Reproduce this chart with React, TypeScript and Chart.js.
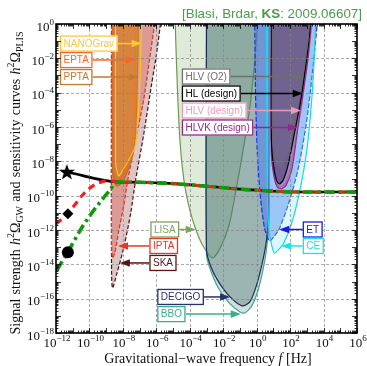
import React, { useEffect, useRef } from "react";
import { Chart, registerables } from "chart.js";
Chart.register(...registerables);

// ---------------- data: log10(f / Hz) and log10(h^2 Omega) ----------------
const X_TICK_EXP = [-12, -10, -8, -6, -4, -2, 0, 2, 4, 6];
const Y_TICK_EXP = [0, -2, -4, -6, -8, -10, -12, -14, -16, -18];

// Pulsar timing arrays
const NANOGRAV_F = [-8.44, -8.439, -8.35, -8.24, -8.0, -7.65, -7.24, -7.06, -6.94, -6.88];
const NANOGRAV_H = [0.3, -7.92, -8.62, -8.85, -8.5, -7.92, -7.05, -5.0, -2.1, 0.3];
const EPTA_F = [-8.59, -8.589, -8.47, -8.29, -8.0, -7.65, -7.41, -7.29, -7.24];
const EPTA_H = [0.3, -8.21, -8.97, -9.14, -8.79, -7.92, -6.76, -4.43, 0.3];
const PPTA_F = [-8.62, -8.619, -8.53, -8.35, -8.06, -7.65, -7.35, -7.18, -7.06];
const PPTA_H = [0.3, -8.5, -9.2, -9.44, -9.26, -8.39, -7.34, -5.0, 0.3];
const IPTA_F = [-8.68, -8.679, -8.62, -8.47, -8.24, -7.94, -7.71, -7.24, -6.76, -6.41, -6.06];
const IPTA_H = [0.3, -12.87, -13.63, -13.28, -12.0, -10.54, -9.09, -6.76, -4.43, -2.1, 0.3];
const SKA_F = [-8.68, -8.679, -8.62, -8.35, -7.94, -7.53, -7.24, -6.76, -6.29, -6.0, -5.71];
const SKA_H = [0.3, -14.33, -15.38, -14.5, -12.99, -11.01, -9.09, -6.46, -3.55, -1.81, 0.3];

// Space-based
const LISA_F = [-4.88, -4.76, -4.59, -4.35, -4.0, -3.65, -3.24, -2.65, -2.18, -1.65, -1.18, -0.71, -0.35, -0.06, 0.06];
const LISA_H = [0.3, -3.26, -6.76, -9.09, -10.83, -11.94, -12.87, -13.63, -13.05, -11.71, -9.38, -6.76, -4.43, -1.51, 0.3];
const DECIGO_F = [-3.0, -2.999, -2.71, -2.24, -1.59, -0.88, -0.41, 0.0, 0.35, 0.59, 0.71, 0.74];
const DECIGO_H = [0.3, -13.16, -14.21, -15.08, -15.9, -16.42, -16.19, -15.2, -13.86, -12.58, -11.12, 0.3];
const BBO_F = [-3.0, -2.999, -2.76, -2.29, -1.65, -1.0, -0.71, -0.29, 0.12, 0.47, 0.65, 0.76, 0.79];
const BBO_H = [0.3, -13.45, -14.33, -15.38, -16.25, -16.77, -16.83, -16.42, -15.38, -13.86, -12.58, -11.12, 0.3];

// Ground-based
const ET_F = [-0.12, -0.06, 0.06, 0.24, 0.47, 0.76, 1.06, 1.35, 1.88, 2.47, 3.0, 3.35, 3.65];
const ET_H = [0.3, -4.43, -7.92, -10.25, -11.88, -12.64, -12.35, -11.94, -10.54, -8.5, -5.59, -2.68, 0.3];
const CE_F = [0.59, 0.62, 0.71, 0.88, 1.06, 1.29, 1.59, 2.06, 2.53, 3.0, 3.29, 3.47, 3.53];
const CE_H = [0.3, -9.09, -11.71, -12.81, -13.34, -13.16, -12.81, -11.71, -9.96, -7.34, -4.43, -1.51, 0.3];
const HLV_O2_F = [0.94, 0.941, 1.06, 1.24, 1.41, 1.65, 2.0, 2.35, 2.65, 2.82, 3.06, 3.18];
const HLV_O2_H = [0.3, -6.17, -7.63, -8.27, -8.39, -8.1, -7.05, -5.3, -3.73, -2.68, -1.05, 0.3];
const HL_F = [0.88, 0.881, 1.0, 1.18, 1.35, 1.59, 1.88, 2.24, 2.59, 2.82, 3.06, 3.24];
const HL_H = [0.3, -6.76, -8.21, -9.09, -9.32, -9.09, -8.21, -6.46, -4.72, -3.26, -1.51, 0.3];
const HLV_F = [0.88, 0.881, 1.06, 1.24, 1.41, 1.71, 2.06, 2.35, 2.65, 2.94, 3.18, 3.35];
const HLV_H = [0.3, -7.34, -8.9, -9.4, -9.49, -9.3, -8.21, -6.64, -5.07, -2.97, -1.22, 0.3];
const HLVK_F = [0.88, 0.881, 1.06, 1.24, 1.47, 1.76, 2.12, 2.47, 2.76, 3.06, 3.29];
const HLVK_H = [0.3, -7.63, -9.0, -9.5, -9.6, -9.4, -8.39, -6.0, -4.14, -2.1, 0.3];

// Signal curves
const BLACK_F = [-11.35, -8.35, -7.0, -5.0, -3.0, -1.0, 1.0, 2.0, 4.0, 6.0];
const BLACK_H = [-8.62, -9.2, -9.22, -9.3, -9.45, -9.62, -9.74, -9.78, -9.79, -9.79];
const RED_F = [-12.0, -11.65, -11.29, -10.88, -10.41, -9.88, -9.29, -8.82, -8.35, -7.0, -5.0, -3.0, -1.0, 1.0, 2.0, 4.0, 6.0];
const RED_H = [-11.65, -11.36, -11.0, -10.54, -9.96, -9.49, -9.2, -9.12, -9.2, -9.22, -9.3, -9.45, -9.62, -9.74, -9.78, -9.79, -9.79];
const GREEN_F = [-11.94, -11.65, -11.29, -10.88, -10.47, -10.0, -9.41, -8.82, -8.35, -7.0, -5.0, -3.0, -1.0, 1.0, 2.0, 4.0, 6.0];
const GREEN_H = [-14.33, -13.86, -13.28, -12.58, -11.88, -11.2, -10.43, -9.73, -9.2, -9.22, -9.3, -9.45, -9.62, -9.74, -9.78, -9.79, -9.79];
const STAR_POINT = [-11.35, -8.62];
const DIAMOND_POINT = [-11.29, -11.05];
const CIRCLE_POINT = [-11.29, -13.3];

// Annotation labels
const ANNOT_TEXT = ["NANOGrav", "EPTA", "PPTA", "HLV (O2)", "HL (design)", "HLV (design)", "HLVK (design)", "LISA", "IPTA", "SKA", "ET", "CE", "DECIGO", "BBO"];
const ANNOT_COLOR = ["#ffc634", "#f26a2a", "#c47a2c", "#6e6e6e", "#000000", "#e99bbd", "#8e2a8e", "#7da35e", "#e03a26", "#5c1414", "#1a1ae6", "#1ee0e8", "#26306a", "#3aae8a"];
const ANNOT_BOX_F = [-11.76, -11.76, -11.76, -4.47, -4.47, -4.47, -4.47, -6.35, -6.41, -6.41, 2.76, 2.76, -5.94, -5.94];
const ANNOT_H = [-1.14, -2.1, -3.09, -3.06, -4.05, -5.04, -6.03, -11.97, -12.93, -13.92, -11.97, -12.93, -15.9, -16.9];
const ANNOT_TIP_F = [-6.88, -7.24, -7.06, 2.76, 2.76, 2.65, 2.47, -3.65, -8.29, -8.18, 1.35, 1.47, -1.59, -0.95];

const pts = (lf: number[], lh: number[]) => lf.map((f, i) => ({ x: Math.pow(10, f), y: Math.pow(10, lh[i]) }));

function region(label: string, lf: number[], lh: number[], border: string, fillColor: string, dash: number[] = []) {
  return {
    label,
    data: pts(lf, lh),
    borderColor: border,
    backgroundColor: fillColor,
    borderWidth: 1.2,
    borderDash: dash,
    fill: "end",
    pointRadius: 0,
    tension: 0.25,
  };
}

function makeStar(): HTMLCanvasElement {
  const c = document.createElement("canvas");
  c.width = 18; c.height = 18;
  const g = c.getContext("2d")!;
  g.fillStyle = "#000";
  g.beginPath();
  for (let i = 0; i < 10; i++) {
    const r = i % 2 === 0 ? 8.5 : 3.4;
    const a = -Math.PI / 2 + (i * Math.PI) / 5;
    const px = 9 + r * Math.cos(a), py = 9.5 + r * Math.sin(a);
    if (i === 0) g.moveTo(px, py); else g.lineTo(px, py);
  }
  g.closePath();
  g.fill();
  return c;
}

type Seg = { t: string; font: string; dy?: number };
const SERIF = '"Liberation Serif", "DejaVu Serif", serif';
const SANS = '"Liberation Sans", Arial, sans-serif';

function segsWidth(ctx: CanvasRenderingContext2D, segs: Seg[]) {
  let w = 0;
  for (const s of segs) { ctx.font = s.font; w += ctx.measureText(s.t).width; }
  return w;
}
function drawSegs(ctx: CanvasRenderingContext2D, segs: Seg[], x: number, y: number) {
  let cx = x;
  for (const s of segs) {
    ctx.font = s.font;
    ctx.fillText(s.t, cx, y + (s.dy || 0));
    cx += ctx.measureText(s.t).width;
  }
  return cx;
}
function expLabel(e: number, base: number, sup: number, raise: number): Seg[] {
  const t = e < 0 ? "\u2212" + Math.abs(e) : String(e);
  return [
    { t: "10", font: `${base}px ${SERIF}` },
    { t, font: `${sup}px ${SERIF}`, dy: -raise },
  ];
}

const decorPlugin = {
  id: "decor",
  afterDatasetsDraw(chart: any) {
    const { ctx, chartArea: a, scales } = chart;
    const xs = scales.x, ys = scales.y;
    ctx.save();
    // grid
    ctx.strokeStyle = "rgba(130,130,130,0.85)";
    ctx.lineWidth = 0.8;
    ctx.setLineDash([3, 2]);
    for (const e of X_TICK_EXP) {
      const px = Math.round(xs.getPixelForValue(Math.pow(10, e))) + 0.5;
      if (px <= a.left + 1 || px >= a.right - 1) continue;
      ctx.beginPath(); ctx.moveTo(px, a.top); ctx.lineTo(px, a.bottom); ctx.stroke();
    }
    for (const e of Y_TICK_EXP) {
      const py = Math.round(ys.getPixelForValue(Math.pow(10, e))) + 0.5;
      if (py <= a.top + 1 || py >= a.bottom - 1) continue;
      ctx.beginPath(); ctx.moveTo(a.left, py); ctx.lineTo(a.right, py); ctx.stroke();
    }
    ctx.setLineDash([]);

    // annotation boxes and arrows
    ctx.font = `10px ${SANS}`;
    ctx.textBaseline = "middle";
    for (let i = 0; i < ANNOT_TEXT.length; i++) {
      const color = ANNOT_COLOR[i];
      const bx = xs.getPixelForValue(Math.pow(10, ANNOT_BOX_F[i]));
      const by = ys.getPixelForValue(Math.pow(10, ANNOT_H[i]));
      const tip = xs.getPixelForValue(Math.pow(10, ANNOT_TIP_F[i]));
      const tw = ctx.measureText(ANNOT_TEXT[i]).width;
      const bw = tw + 7, bh = 16;
      const dir = tip > bx ? 1 : -1;
      const start = dir > 0 ? bx + bw : bx;
      ctx.strokeStyle = color; ctx.fillStyle = color; ctx.lineWidth = 1.5;
      ctx.beginPath(); ctx.moveTo(start, by); ctx.lineTo(tip - dir * 7, by); ctx.stroke();
      ctx.beginPath(); ctx.moveTo(tip, by); ctx.lineTo(tip - dir * 10, by - 3.8); ctx.lineTo(tip - dir * 10, by + 3.8); ctx.closePath(); ctx.fill();
      ctx.fillStyle = "#ffffff";
      ctx.fillRect(bx, by - bh / 2, bw, bh);
      ctx.lineWidth = 1.3;
      ctx.strokeRect(bx + 0.5, by - bh / 2 + 0.5, bw - 1, bh - 1);
      ctx.fillStyle = color;
      ctx.textAlign = "left";
      ctx.fillText(ANNOT_TEXT[i], bx + 3.5, by + 0.5);
    }
    ctx.restore();
  },
  afterDraw(chart: any) {
    const { ctx, chartArea: a, scales } = chart;
    const xs = scales.x, ys = scales.y;
    ctx.save();
    // ticks
    ctx.strokeStyle = "#000"; ctx.lineWidth = 0.8;
    for (let e = -12; e <= 6; e++) {
      for (let k = 1; k <= 9; k++) {
        if (e === 6 && k > 1) break;
        const px = Math.round(xs.getPixelForValue(k * Math.pow(10, e))) + 0.5;
        const len = k === 1 ? 5 : 2.5;
        ctx.beginPath();
        ctx.moveTo(px, a.bottom); ctx.lineTo(px, a.bottom - len);
        ctx.moveTo(px, a.top); ctx.lineTo(px, a.top + len);
        ctx.stroke();
      }
    }
    for (let e = -18; e <= 0; e++) {
      for (let k = 1; k <= 9; k++) {
        if (e === 0 && k > 1) break;
        const py = Math.round(ys.getPixelForValue(k * Math.pow(10, e))) + 0.5;
        const len = k === 1 ? 5 : 2.5;
        ctx.beginPath();
        ctx.moveTo(a.left, py); ctx.lineTo(a.left + len, py);
        ctx.moveTo(a.right, py); ctx.lineTo(a.right - len, py);
        ctx.stroke();
      }
    }
    // border
    ctx.lineWidth = 1.6;
    ctx.strokeRect(a.left, a.top, a.right - a.left, a.bottom - a.top);

    // tick labels
    ctx.fillStyle = "#111";
    ctx.textBaseline = "alphabetic";
    ctx.textAlign = "left";
    for (const e of X_TICK_EXP) {
      const px = xs.getPixelForValue(Math.pow(10, e));
      const segs = expLabel(e, 13, 9, 6);
      const w = segsWidth(ctx, segs);
      drawSegs(ctx, segs, px - w / 2 + 1, 347);
    }
    for (const e of Y_TICK_EXP) {
      const py = ys.getPixelForValue(Math.pow(10, e));
      const segs = expLabel(e, 13, 9, 6);
      const w = segsWidth(ctx, segs);
      drawSegs(ctx, segs, 54 - w, py + 6.5);
    }

    // x title
    const xt: Seg[] = [
      { t: "Gravitational\u2212wave frequency ", font: `14px ${SERIF}` },
      { t: "f", font: `italic 14px ${SERIF}` },
      { t: " [Hz]", font: `14px ${SERIF}` },
    ];
    const xw = segsWidth(ctx, xt);
    drawSegs(ctx, xt, 208 - xw / 2, 363);

    // y title (rotated)
    const base = `14px ${SERIF}`, it = `italic 14px ${SERIF}`, sm = `10px ${SERIF}`;
    const words: Seg[][] = [
      [{ t: "Signal", font: base }],
      [{ t: "strength", font: base }],
      [{ t: "h", font: it }, { t: "2", font: sm, dy: -6 }, { t: "\u03a9", font: base }, { t: "GW", font: sm, dy: 3 }],
      [{ t: "and", font: base }],
      [{ t: "sensitivity", font: base }],
      [{ t: "curves", font: base }],
      [{ t: "h", font: it }, { t: "2", font: sm, dy: -6 }, { t: "\u03a9", font: base }, { t: "PLIS", font: sm, dy: 3 }],
    ];
    const total = 303;
    const ws = words.map((w) => segsWidth(ctx, w));
    const sum = ws.reduce((p, c) => p + c, 0);
    const gap = (total - sum) / (words.length - 1);
    ctx.save();
    ctx.translate(20, 183);
    ctx.rotate(-Math.PI / 2);
    let cx = -total / 2;
    words.forEach((w, i) => { drawSegs(ctx, w, cx, 0); cx += ws[i] + gap; });
    ctx.restore();

    // top reference text
    ctx.fillStyle = "#4a9a4a";
    const top: Seg[] = [
      { t: "[Blasi, Brdar, ", font: `13px ${SANS}` },
      { t: "KS", font: `bold 13px ${SANS}` },
      { t: ": 2009.06607]", font: `13px ${SANS}` },
    ];
    const tw = segsWidth(ctx, top);
    const sc = 180 / tw;
    ctx.save();
    ctx.translate(362 - 180, 18);
    ctx.scale(sc, 1);
    drawSegs(ctx, top, 0, 0);
    ctx.restore();
    ctx.restore();
  },
};

export default function App() {
  const ref = useRef<HTMLCanvasElement | null>(null);
  useEffect(() => {
    document.body.style.margin = "0";
    if (!ref.current) return;
    const star = makeStar();
    const sigLine = (data: any, color: string, width: number, dash: number[]) => ({
      data, borderColor: color, borderWidth: width, borderDash: dash, fill: false,
      pointRadius: 0, cubicInterpolationMode: "monotone", borderCapStyle: "butt",
    });
    const chart = new Chart(ref.current, {
      type: "line",
      data: {
        datasets: [
          { label: "star", data: pts([STAR_POINT[0]], [STAR_POINT[1]]), showLine: false, pointStyle: star as any, pointRadius: 9 },
          { label: "diamond", data: pts([DIAMOND_POINT[0]], [DIAMOND_POINT[1]]), showLine: false, pointStyle: "rectRot", pointRadius: 5.5, pointBackgroundColor: "#000", pointBorderColor: "#000", pointBorderWidth: 0 },
          { label: "circle", data: pts([CIRCLE_POINT[0]], [CIRCLE_POINT[1]]), showLine: false, pointStyle: "circle", pointRadius: 6, pointBackgroundColor: "#000", pointBorderColor: "#000", pointBorderWidth: 0 },
          { label: "green", ...sigLine(pts(GREEN_F, GREEN_H), "#0a9a0a", 3.6, [10, 4, 3, 4]) },
          { label: "red", ...sigLine(pts(RED_F, RED_H), "#ff1a1a", 3.2, [7, 5]) },
          { label: "black", ...sigLine(pts(BLACK_F, BLACK_H), "#000000", 2.6, []) },
          region("HLV (O2)", HLV_O2_F, HLV_O2_H, "#6a6a6a", "rgba(125,125,125,0.25)"),
          region("HL (design)", HL_F, HL_H, "#000000", "rgba(60,30,90,0.45)"),
          region("HLVK (design)", HLVK_F, HLVK_H, "#8e2a8e", "rgba(110,40,120,0.3)"),
          region("HLV (design)", HLV_F, HLV_H, "#e07aa8", "rgba(220,120,170,0.2)"),
          region("CE", CE_F, CE_H, "#18d8e8", "rgba(140,230,240,0.3)"),
          region("ET", ET_F, ET_H, "#1c30f0", "rgba(70,120,250,0.5)", [5, 2]),
          region("DECIGO", DECIGO_F, DECIGO_H, "#1c2a5c", "rgba(60,100,100,0.35)"),
          region("BBO", BBO_F, BBO_H, "#3aa888", "rgba(100,150,140,0.3)"),
          region("LISA", LISA_F, LISA_H, "#6f9a52", "rgba(150,185,130,0.3)"),
          region("NANOGrav", NANOGRAV_F, NANOGRAV_H, "#ffc21e", "rgba(255,200,50,0.15)"),
          region("EPTA", EPTA_F, EPTA_H, "#f26522", "rgba(240,110,40,0.15)"),
          region("PPTA", PPTA_F, PPTA_H, "#b8702a", "rgba(195,115,45,0.75)"),
          region("IPTA", IPTA_F, IPTA_H, "#e0301e", "rgba(215,90,80,0.4)", [4, 2]),
          region("SKA", SKA_F, SKA_H, "#5a0f0f", "rgba(170,110,110,0.4)", [4, 2]),
        ] as any,
      },
      options: {
        animation: false,
        responsive: false,
        events: [],
        layout: { padding: { top: 24, right: 5, left: 0, bottom: 0 } },
        plugins: { legend: { display: false }, tooltip: { enabled: false }, title: { display: false } },
        scales: {
          x: {
            type: "logarithmic", min: 1e-12, max: 1e6,
            ticks: { display: false }, grid: { display: false }, border: { display: false },
            afterFit: (s: any) => { s.height = 33; },
          },
          y: {
            type: "logarithmic", min: 1e-18, max: 1,
            ticks: { display: false }, grid: { display: false }, border: { display: false },
            afterFit: (s: any) => { s.width = 56; },
          },
        },
      } as any,
      plugins: [decorPlugin],
    });
    return () => chart.destroy();
  }, []);
  return (
    <div style={{ width: 367, height: 366, background: "#fff" }}>
      <canvas ref={ref} width={367} height={366} style={{ display: "block", width: 367, height: 366 }} />
    </div>
  );
}
